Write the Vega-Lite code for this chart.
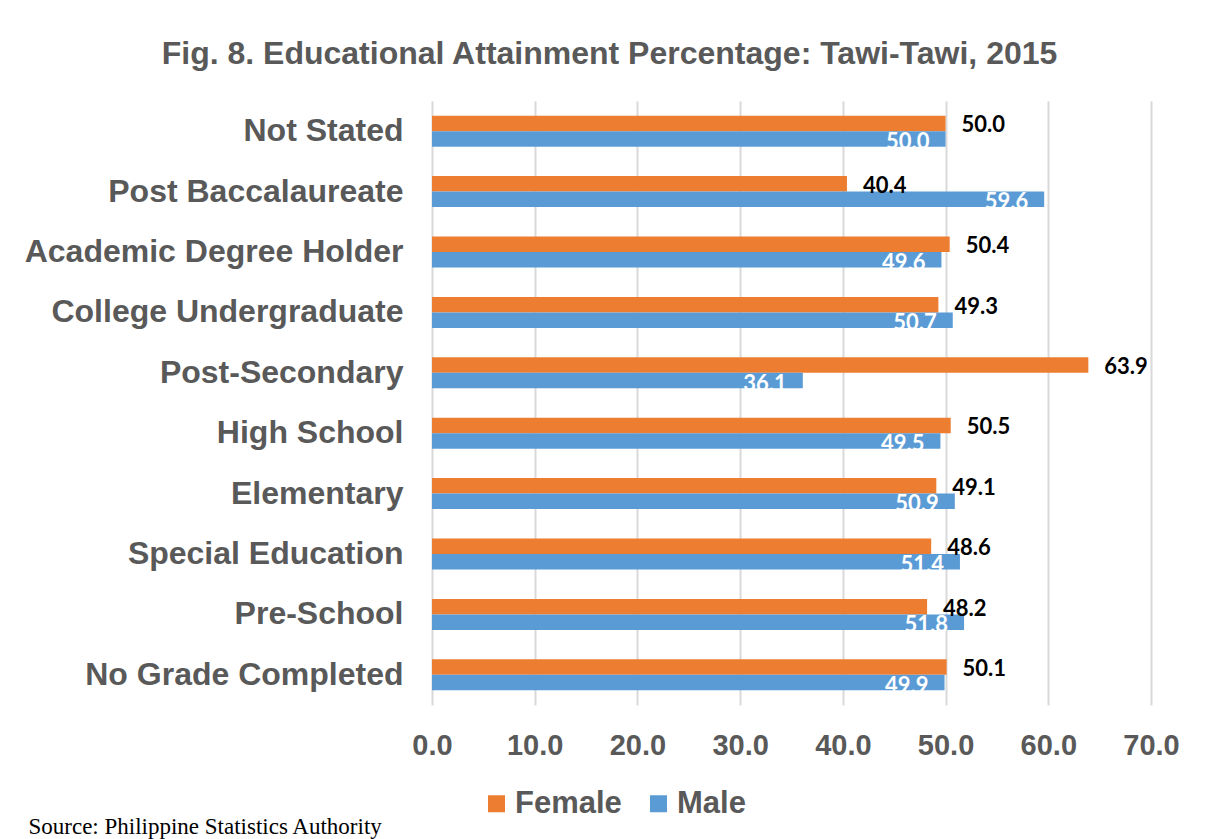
{
  "$schema": "https://vega.github.io/schema/vega-lite/v6.json",
  "width": 719,
  "height": 604,
  "autosize": {"type": "none"},
  "padding": {"left": 432, "top": 101, "right": 55, "bottom": 134},
  "background": "white",
  "config": {"view": {"stroke": null}},
  "title": {
    "text": "Fig. 8. Educational Attainment Percentage: Tawi-Tawi, 2015",
    "anchor": "middle",
    "frame": "group",
    "dx": -182,
    "offset": 30,
    "font": "Liberation Sans",
    "fontSize": 32,
    "fontWeight": "bold",
    "color": "#595959"
  },
  "data": {
    "values": [
      {"level": "Not Stated", "sex": "Female", "pct": 50.0},
      {"level": "Not Stated", "sex": "Male", "pct": 50.0},
      {"level": "Post Baccalaureate", "sex": "Female", "pct": 40.4},
      {"level": "Post Baccalaureate", "sex": "Male", "pct": 59.6},
      {"level": "Academic Degree Holder", "sex": "Female", "pct": 50.4},
      {"level": "Academic Degree Holder", "sex": "Male", "pct": 49.6},
      {"level": "College Undergraduate", "sex": "Female", "pct": 49.3},
      {"level": "College Undergraduate", "sex": "Male", "pct": 50.7},
      {"level": "Post-Secondary", "sex": "Female", "pct": 63.9},
      {"level": "Post-Secondary", "sex": "Male", "pct": 36.1},
      {"level": "High School", "sex": "Female", "pct": 50.5},
      {"level": "High School", "sex": "Male", "pct": 49.5},
      {"level": "Elementary", "sex": "Female", "pct": 49.1},
      {"level": "Elementary", "sex": "Male", "pct": 50.9},
      {"level": "Special Education", "sex": "Female", "pct": 48.6},
      {"level": "Special Education", "sex": "Male", "pct": 51.4},
      {"level": "Pre-School", "sex": "Female", "pct": 48.2},
      {"level": "Pre-School", "sex": "Male", "pct": 51.8},
      {"level": "No Grade Completed", "sex": "Female", "pct": 50.1},
      {"level": "No Grade Completed", "sex": "Male", "pct": 49.9}
    ]
  },
  "encoding": {
    "y": {
      "field": "level",
      "type": "nominal",
      "sort": null,
      "scale": {"paddingInner": 0.487, "paddingOuter": 0.2435},
      "axis": {
        "title": null,
        "domain": false,
        "ticks": false,
        "grid": false,
        "labelPadding": 29,
        "labelLimit": 600,
        "labelFont": "Liberation Sans",
        "labelFontSize": 32,
        "labelFontWeight": "bold",
        "labelColor": "#595959"
      }
    },
    "yOffset": {
      "field": "sex",
      "type": "nominal",
      "scale": {"domain": ["Female", "Male"], "paddingInner": 0, "paddingOuter": 0}
    },
    "x": {
      "field": "pct",
      "type": "quantitative",
      "scale": {"domain": [0, 70], "nice": false},
      "axis": {
        "title": "Source: Philippine Statistics Authority",
        "values": [0, 10, 20, 30, 40, 50, 60, 70],
        "format": ".1f",
        "labelFlush": false,
        "grid": true,
        "gridColor": "#D9D9D9",
        "gridWidth": 2,
        "domain": false,
        "ticks": false,
        "labelPadding": 26,
        "labelFont": "Liberation Sans",
        "labelFontSize": 29,
        "labelFontWeight": "bold",
        "labelColor": "#595959",
        "titleFont": "Liberation Serif",
        "titleFontSize": 23,
        "titleFontWeight": "normal",
        "titleColor": "black",
        "titleX": -404,
        "titleY": 128,
        "titleAlign": "left",
        "titleBaseline": "alphabetic"
      }
    }
  },
  "layer": [
    {
      "mark": {"type": "bar"},
      "encoding": {
        "color": {
          "field": "sex",
          "type": "nominal",
          "scale": {"domain": ["Female", "Male"], "range": ["#ED7D31", "#5B9BD5"]},
          "legend": {
            "title": null,
            "orient": "none",
            "legendX": 49,
            "legendY": 687,
            "direction": "horizontal",
            "symbolType": "square",
            "symbolSize": 289,
            "symbolStrokeWidth": 0,
            "symbolOpacity": 1,
            "labelFont": "Liberation Sans",
            "labelFontSize": 31,
            "labelFontWeight": "bold",
            "labelColor": "#595959",
            "labelOffset": 3,
            "labelLimit": 300,
            "columnPadding": 21,
            "padding": 0
          }
        }
      }
    },
    {
      "transform": [{"filter": "datum.sex === 'Female'"}],
      "mark": {"type": "text", "align": "left", "baseline": "middle", "dx": 16, "dy": 2, "font": "Lato", "fontSize": 22, "fontWeight": "bold", "color": "black"},
      "encoding": {"text": {"field": "pct", "type": "quantitative", "format": ".1f"}}
    },
    {
      "transform": [{"filter": "datum.sex === 'Male'"}],
      "mark": {"type": "text", "align": "right", "baseline": "middle", "dx": -16, "dy": 3, "font": "Lato", "fontSize": 22, "fontWeight": "bold", "color": "white"},
      "encoding": {"text": {"field": "pct", "type": "quantitative", "format": ".1f"}}
    }
  ]
}
